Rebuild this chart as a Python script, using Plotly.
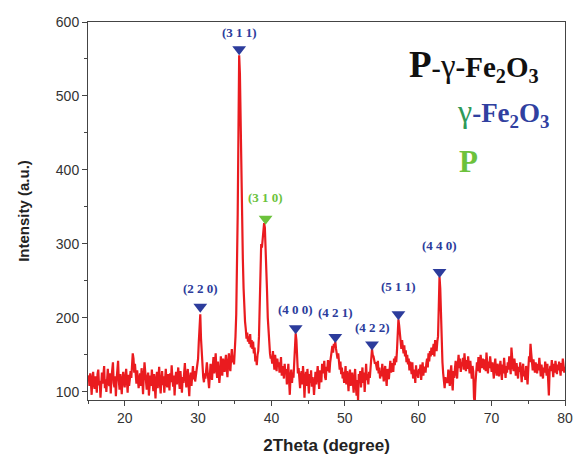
import plotly.graph_objects as go

# 2Theta from 15.0 to 80.0 in 0.1 degree steps
two_theta_start = 15.0
two_theta_step = 0.1
intensity = [
    118,122,108,125,112,96,119,127,110,104,
    121,113,99,124,130,109,115,92,118,126,
    111,128,135,105,117,100,122,131,114,108,
    125,98,119,133,140,112,106,121,94,117,
    129,142,115,103,124,110,97,118,127,113,
    106,120,131,115,99,123,108,117,128,119,
    134,152,145,126,138,121,111,129,119,105,
    116,125,108,132,118,97,121,140,127,112,
    103,119,126,95,114,122,108,130,116,101,
    124,113,91,118,127,105,119,134,111,98,
    115,128,109,121,99,117,131,112,106,124,
    118,102,125,113,136,119,107,122,95,116,
    127,110,121,133,114,104,128,117,99,120,
    112,125,139,118,106,123,131,110,94,119,
    126,108,121,135,117,128,114,124,132,140,
    145,168,196,205,172,150,131,120,113,125,
    118,132,140,127,112,105,121,138,129,116,
    134,147,125,138,152,130,119,141,128,112,
    125,148,137,122,145,133,127,141,150,131,
    120,139,152,134,128,145,158,140,149,137,
    152,175,205,260,340,450,555,530,450,395,
    330,280,240,210,195,185,172,180,168,175,
    165,178,160,170,158,168,152,160,141,148,
    136,150,155,175,210,262,300,295,310,320,
    328,322,300,270,235,200,178,160,152,145,
    148,138,155,142,130,150,137,128,145,135,
    140,126,133,147,122,135,129,118,138,125,
    131,110,124,138,115,96,121,130,112,126,
    119,135,158,179,170,148,125,132,114,105,
    122,128,110,135,119,92,116,127,108,131,
    115,98,124,112,129,107,120,113,96,118,
    127,110,123,135,118,104,129,122,113,138,
    125,131,142,120,116,134,128,143,137,126,
    140,148,156,162,153,165,160,168,158,150,
    145,152,138,130,141,124,133,118,127,112,
    122,135,110,128,117,101,124,130,108,119,
    126,112,99,120,131,107,95,116,88,124,
    118,128,106,121,133,112,126,100,130,138,
    116,124,110,127,119,138,145,158,150,148,
    143,138,140,136,129,142,125,133,118,127,
    121,138,129,114,126,135,120,108,131,124,
    117,130,142,126,139,133,127,145,136,148,
    140,155,172,198,190,178,165,158,170,160,
    152,163,148,156,140,150,137,145,129,141,
    133,124,140,118,130,127,112,136,121,129,
    119,131,125,137,116,128,140,122,134,131,
    126,138,145,133,152,141,155,148,160,150,
    158,165,148,170,162,155,168,175,215,256,
    240,190,160,140,125,115,105,120,112,118,
    112,130,118,108,125,136,114,102,128,119,
    131,142,125,118,138,150,132,145,127,140,
    135,146,130,152,139,128,143,131,148,136,
    125,142,130,118,135,127,92,85,112,133,
    140,128,147,135,126,150,141,132,145,138,
    130,144,128,153,137,125,141,132,148,135,
    127,140,131,118,136,145,129,122,138,134,
    121,133,142,128,116,137,125,146,131,119,
    135,126,140,130,148,138,124,160,142,133,
    128,145,136,122,139,131,118,134,127,140,
    125,113,130,138,121,128,116,135,124,110,
    131,148,140,165,152,137,129,144,135,126,
    140,132,125,138,129,146,134,121,137,128,
    118,133,126,141,130,122,138,112,95,127,
    135,128,143,132,120,138,126,142,131,124,
    137,129,141,133,122,139,128,145,130,126,
    134,
]
two_theta = [round(two_theta_start + i * two_theta_step, 1) for i in range(len(intensity))]

# Peak markers (hkl labels)
peak_labels = ["(2 2 0)", "(3 1 1)", "(3 1 0)", "(4 0 0)", "(4 2 1)", "(4 2 2)", "(5 1 1)", "(4 4 0)"]
peak_x = [30.3, 35.6, 39.2, 43.3, 48.7, 53.7, 57.3, 62.9]
peak_y = [215, 563, 334, 186, 174, 164, 205, 262]
peak_phase = ["g", "g", "p", "g", "g", "g", "g", "g"]  # g: gamma-Fe2O3, p: P

label_shift = [18, 17, 21, 19, 25, 17, 28, 27]

BLUE = "#2c3c9c"
GREEN = "#6cc23c"
RED = "#ea1b1f"

fig = go.Figure()
fig.add_trace(go.Scatter(x=two_theta, y=intensity, mode="lines",
                         line=dict(color=RED, width=2.2), showlegend=False,
                         hoverinfo="skip"))
fig.add_trace(go.Scatter(x=peak_x, y=peak_y, mode="markers",
                         marker=dict(symbol="triangle-down", size=12,
                                     color=[GREEN if p == "p" else BLUE for p in peak_phase],
                                     line=dict(width=0)),
                         showlegend=False))

for lab, px, py, ph, sh in zip(peak_labels, peak_x, peak_y, peak_phase, label_shift):
    fig.add_annotation(x=px, y=py, text=f"<b>{lab}</b>", showarrow=False,
                       yshift=sh, xanchor="center", yanchor="middle",
                       font=dict(family="Liberation Serif", size=13,
                                 color=GREEN if ph == "p" else BLUE))

# Legend-like text block
fig.add_annotation(xref="paper", yref="paper", x=0.668, y=0.885, xanchor="left", yanchor="middle",
                   showarrow=False,
                   text=("<span style='font-size:37px'><b>P</b></span>"
                         "<span style='font-size:28px'><b>-</b></span>"
                         "<span style='font-size:33px'>γ</span>"
                         "<span style='font-size:29px'><b>-Fe<sub>2</sub>O<sub>3</sub></b></span>"),
                   font=dict(family="Liberation Serif", color="#111111", size=29))
fig.add_annotation(xref="paper", yref="paper", x=0.77, y=0.76, xanchor="left", yanchor="middle",
                   showarrow=False,
                   text=("<span style='font-size:32px;color:#2e9a58'>γ</span>"
                         "<span style='font-size:27px;color:#3040a0'><b>-Fe<sub>2</sub>O<sub>3</sub></b></span>"),
                   font=dict(family="Liberation Serif", color="#3040a0", size=27))
fig.add_annotation(xref="paper", yref="paper", x=0.774, y=0.63, xanchor="left", yanchor="middle",
                   showarrow=False, text="<b>P</b>",
                   font=dict(family="Liberation Serif", color=GREEN, size=31))

axis_common = dict(showline=True, linecolor="#444444", linewidth=1, mirror=True,
                   ticks="outside", ticklen=5, tickcolor="#444444", tickwidth=1,
                   showgrid=False, zeroline=False, automargin=False,
                   tickfont=dict(family="Liberation Sans", size=14, color="#333333"))

fig.update_xaxes(range=[15, 80], dtick=10, tick0=0,
                 minor=dict(dtick=5, ticks="outside", ticklen=3, tickcolor="#444444"),
                 title=dict(text="<b>2Theta (degree)</b>", standoff=14,
                            font=dict(family="Liberation Sans", size=17, color="#222222")),
                 **axis_common)
fig.update_yaxes(range=[89, 600], dtick=100, tick0=0,
                 minor=dict(dtick=50, ticks="outside", ticklen=3, tickcolor="#444444"),
                 title=dict(text="<b>Intensity (a.u.)</b>", standoff=22,
                            font=dict(family="Liberation Sans", size=15, color="#222222")),
                 **axis_common)

fig.update_layout(width=573, height=457, margin=dict(l=88, r=8, t=22, b=57),
                  paper_bgcolor="white", plot_bgcolor="white")

fig.write_html("out.html")
